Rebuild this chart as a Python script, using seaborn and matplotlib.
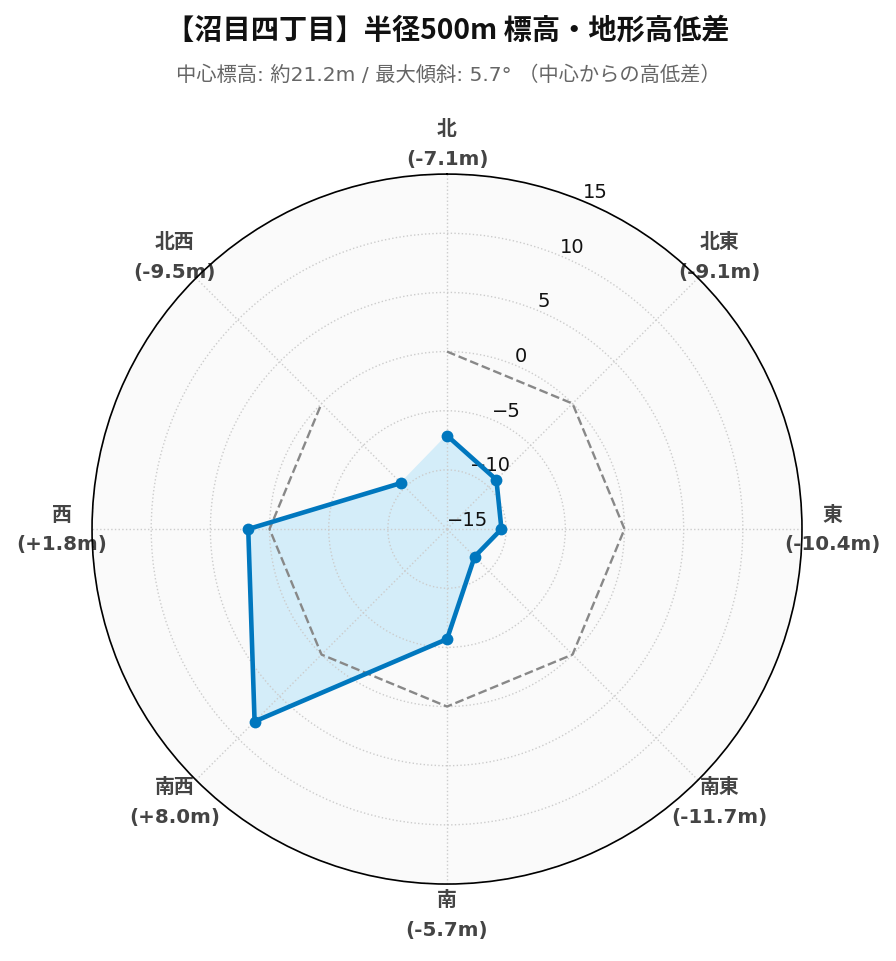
import matplotlib
matplotlib.use("Agg")
import matplotlib.pyplot as plt
import seaborn as sns
import pandas as pd
import numpy as np

# データ（中心からの高低差 m）
directions = ["北", "北東", "東", "南東", "南", "南西", "西", "北西"]
diffs = [-7.1, -9.1, -10.4, -11.7, -5.7, 8.0, 1.8, -9.5]
r_ticks = [-15, -10, -5, 0, 5, 10, 15]
title = "【沼目四丁目】半径500m 標高・地形高低差"
subtitle = "中心標高: 約21.2m / 最大傾斜: 5.7° （中心からの高低差）"

sns.set_theme(style="white")
plt.rcParams['font.family'] = ['DejaVu Sans', 'Noto Sans CJK JP']
plt.rcParams['axes.unicode_minus'] = True

theta = np.deg2rad(np.arange(len(directions)) * 45.0)
df = pd.DataFrame({"theta": list(theta) + [theta[0]],
                   "diff": diffs + [diffs[0]],
                   "zero": [0.0] * (len(diffs) + 1)})

fig = plt.figure(figsize=(8.96, 9.62), dpi=100)
ax = fig.add_axes([0.1027, 0.080, 0.7924, 0.738], projection="polar")
ax.set_theta_zero_location("N")
ax.set_theta_direction(-1)
ax.set_facecolor("#fafafa")
ax.set_axisbelow(False)  # グリッドと目盛ラベルを塗りの上に

# 高低差の塗り
ax.fill(df["theta"], df["diff"], color="#d4edf9", zorder=1)
# 0m の基準線
sns.lineplot(data=df, x="theta", y="zero", sort=False, ax=ax, color="#888888",
             linestyle="--", linewidth=1.7, zorder=3)
# 高低差
sns.lineplot(data=df, x="theta", y="diff", sort=False, ax=ax, color="#0077be",
             linewidth=3.3, marker="o", markersize=8.5, markeredgewidth=0, zorder=4)

ax.set_ylim(-15, 15)
ax.set_yticks(r_ticks)
ax.set_yticklabels([str(t).replace("-", "\u2212") for t in r_ticks], fontsize=14, color="#111111")
ax.set_rlabel_position(22.5)

labels = [f"{d}\n({v:+.1f}m)" if v > 0 else f"{d}\n({v:.1f}m)" for d, v in zip(directions, diffs)]
ax.set_xticks(theta)
ax.set_xticklabels(labels, fontsize=14.3, fontweight="bold", color="#444444", linespacing=1.7)
ax.tick_params(axis="x", pad=9)

ax.grid(True, color="#cccccc", linestyle=":", linewidth=1.0)
ax.spines["polar"].set_color("black")
ax.spines["polar"].set_linewidth(1.2)
ax.spines["polar"].set_zorder(5)
ax.set_xlabel("")
ax.set_ylabel("")

fig.text(0.5, 0.968, title, ha="center", va="center", fontsize=20.3, fontweight="bold",
         family=["Noto Sans CJK JP", "DejaVu Sans"], color="#111111")
fig.text(0.5, 0.922, subtitle, ha="center", va="center", fontsize=14.6,
         family=["DejaVu Sans", "Noto Sans CJK JP"], color="#666666")

fig.savefig("out.png", dpi=100, facecolor="white")
